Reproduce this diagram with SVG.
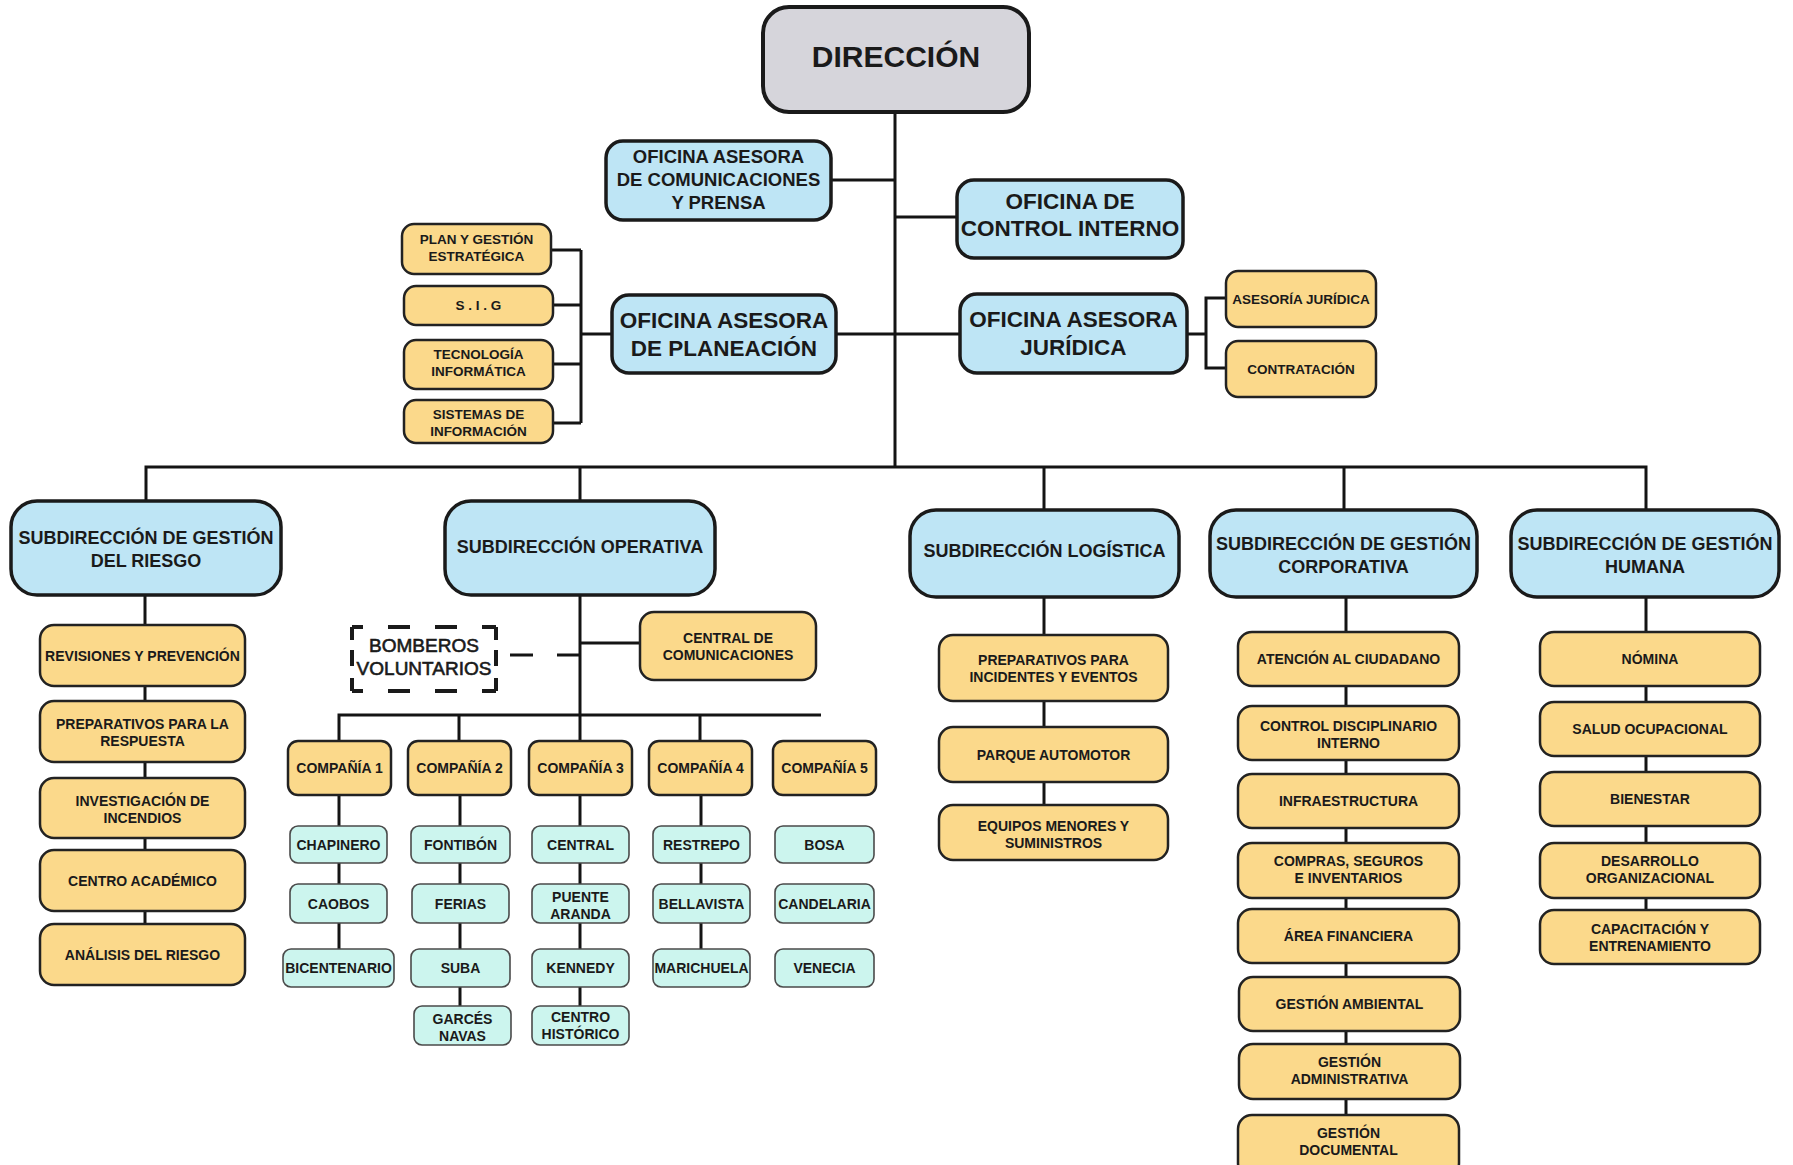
<svg xmlns="http://www.w3.org/2000/svg" width="1793" height="1165" viewBox="0 0 1793 1165">
<style>
.bg{fill:#ffffff}
.grey{fill:#D6D5DB;stroke:#1a1a1a;stroke-width:4}
.blue{fill:#BEE5F5;stroke:#1a1a1a;stroke-width:3.5}
.org{fill:#FBD98B;stroke:#222;stroke-width:2.5}
.cyan{fill:#CCF5EE;stroke:#4a4a4a;stroke-width:1.6}
.dh{fill:none;stroke:#1a1a1a;stroke-width:4;stroke-dasharray:11 25 22 25 22 25 14}
.dv{fill:none;stroke:#1a1a1a;stroke-width:4;stroke-dasharray:13 10 16 12 13}
.ln{fill:none;stroke:#141414;stroke-width:3}
.dl{fill:none;stroke:#141414;stroke-width:3;stroke-dasharray:23 24}
text{font-family:"Liberation Sans",Arial,sans-serif;font-weight:bold;fill:#1a1a1a;text-anchor:middle}
.f30{font-size:30px}
.f22{font-size:22.5px}
.f18{font-size:18.5px}
.f185{font-size:18px}
.f14{font-size:14px}
.f135{font-size:13.5px}
.reg{font-weight:normal;font-size:19px;stroke:#1a1a1a;stroke-width:0.6}
</style>
<rect class="bg" x="0" y="0" width="1793" height="1165"/>

<g id="connectors">
  <path class="ln" d="M895 112 V467"/>
  <path class="ln" d="M831 180 H895"/>
  <path class="ln" d="M895 217 H957"/>
  <path class="ln" d="M836 334 H960"/>
  <path class="ln" d="M581 334 H612"/>
  <path class="ln" d="M581 250 V423"/>
  <path class="ln" d="M551 250 H581 M553 305 H581 M553 364 H581 M553 423 H581"/>
  <path class="ln" d="M1187 334 H1206"/>
  <path class="ln" d="M1226 298 H1206 V368 H1226"/>
  <path class="ln" d="M146 501 V467 H1646 V510"/>
  <path class="ln" d="M580 467 V501 M1044 467 V510 M1344 467 V510"/>
  <path class="ln" d="M145 595 V924"/>
  <path class="ln" d="M580 595 V741"/>
  <path class="ln" d="M580 643 H640"/>
  <path class="dl" d="M510 655 H580"/>
  <path class="ln" d="M339 741 V715 H821"/>
  <path class="ln" d="M459 715 V741 M700 715 V741"/>
  <path class="ln" d="M339 795 V949"/>
  <path class="ln" d="M460 795 V1006"/>
  <path class="ln" d="M580 795 V1006"/>
  <path class="ln" d="M701 795 V949"/>
  <path class="ln" d="M1044 597 V805"/>
  <path class="ln" d="M1346 597 V1115"/>
  <path class="ln" d="M1646 597 V910"/>
</g>

<g id="direccion">
  <rect class="grey" x="763" y="7" width="266" height="105" rx="26"/>
  <text class="f30" x="896" y="67">DIRECCIÓN</text>
</g>

<g id="of-comunicaciones">
  <rect class="blue" x="606" y="141" width="225" height="79" rx="17"/>
  <text class="f18" x="718.5" y="163">OFICINA ASESORA</text>
  <text class="f18" x="718.5" y="186">DE COMUNICACIONES</text>
  <text class="f18" x="718.5" y="209">Y PRENSA</text>
</g>

<g id="of-control">
  <rect class="blue" x="957" y="180" width="226" height="78" rx="17"/>
  <text class="f22" x="1070" y="209">OFICINA DE</text>
  <text class="f22" x="1070" y="235.5">CONTROL INTERNO</text>
</g>

<g id="of-planeacion">
  <rect class="blue" x="612" y="295" width="224" height="78" rx="17"/>
  <text class="f22" x="724" y="328">OFICINA ASESORA</text>
  <text class="f22" x="724" y="355.5">DE PLANEACIÓN</text>
</g>

<g id="of-juridica">
  <rect class="blue" x="960" y="294" width="227" height="79" rx="17"/>
  <text class="f22" x="1073.5" y="327">OFICINA ASESORA</text>
  <text class="f22" x="1073.5" y="354.5">JURÍDICA</text>
</g>

<g id="plan-gestion">
  <rect class="org" x="402" y="224" width="149" height="50" rx="12"/>
  <text class="f135" x="476.5" y="243.5">PLAN Y GESTIÓN</text>
  <text class="f135" x="476.5" y="260.5">ESTRATÉGICA</text>
</g>
<g id="sig">
  <rect class="org" x="404" y="286" width="149" height="39" rx="12"/>
  <text class="f135" x="478.5" y="310">S . I . G</text>
</g>
<g id="tecnologia">
  <rect class="org" x="404" y="340" width="149" height="49" rx="12"/>
  <text class="f135" x="478.5" y="359">TECNOLOGÍA</text>
  <text class="f135" x="478.5" y="376">INFORMÁTICA</text>
</g>
<g id="sistemas">
  <rect class="org" x="404" y="400" width="149" height="43" rx="12"/>
  <text class="f135" x="478.5" y="418.5">SISTEMAS DE</text>
  <text class="f135" x="478.5" y="435.5">INFORMACIÓN</text>
</g>

<g id="asesoria-juridica">
  <rect class="org" x="1226" y="271" width="150" height="56" rx="12"/>
  <text class="f135" x="1301" y="304">ASESORÍA JURÍDICA</text>
</g>
<g id="contratacion">
  <rect class="org" x="1226" y="341" width="150" height="56" rx="12"/>
  <text class="f135" x="1301" y="374">CONTRATACIÓN</text>
</g>

<g id="sub-riesgo">
  <rect class="blue" x="11" y="501" width="270" height="94" rx="26"/>
  <text class="f185" x="146" y="544">SUBDIRECCIÓN DE GESTIÓN</text>
  <text class="f185" x="146" y="566.5">DEL RIESGO</text>
</g>
<g id="sub-operativa">
  <rect class="blue" x="445" y="501" width="270" height="94" rx="26"/>
  <text class="f185" x="580" y="553">SUBDIRECCIÓN OPERATIVA</text>
</g>
<g id="sub-logistica">
  <rect class="blue" x="910" y="510" width="269" height="87" rx="26"/>
  <text class="f185" x="1044.5" y="556.5">SUBDIRECCIÓN LOGÍSTICA</text>
</g>
<g id="sub-corporativa">
  <rect class="blue" x="1210" y="510" width="267" height="87" rx="26"/>
  <text class="f185" x="1343.5" y="549.5">SUBDIRECCIÓN DE GESTIÓN</text>
  <text class="f185" x="1343.5" y="572.5">CORPORATIVA</text>
</g>
<g id="sub-humana">
  <rect class="blue" x="1511" y="510" width="268" height="87" rx="26"/>
  <text class="f185" x="1645" y="549.5">SUBDIRECCIÓN DE GESTIÓN</text>
  <text class="f185" x="1645" y="572.5">HUMANA</text>
</g>

<g id="revisiones">
  <rect class="org" x="40" y="625" width="205" height="61" rx="14"/>
  <text class="f14" x="142.5" y="660.5">REVISIONES Y PREVENCIÓN</text>
</g>
<g id="prep-respuesta">
  <rect class="org" x="40" y="701" width="205" height="61" rx="14"/>
  <text class="f14" x="142.5" y="729">PREPARATIVOS PARA LA</text>
  <text class="f14" x="142.5" y="746">RESPUESTA</text>
</g>
<g id="investigacion">
  <rect class="org" x="40" y="778" width="205" height="60" rx="14"/>
  <text class="f14" x="142.5" y="805.5">INVESTIGACIÓN DE</text>
  <text class="f14" x="142.5" y="822.5">INCENDIOS</text>
</g>
<g id="centro-academico">
  <rect class="org" x="40" y="850" width="205" height="61" rx="14"/>
  <text class="f14" x="142.5" y="885.5">CENTRO ACADÉMICO</text>
</g>
<g id="analisis">
  <rect class="org" x="40" y="924" width="205" height="61" rx="14"/>
  <text class="f14" x="142.5" y="959.5">ANÁLISIS DEL RIESGO</text>
</g>

<g id="bomberos">
  <path class="dh" d="M352 627 H496"/>
  <path class="dh" d="M352 691 H496"/>
  <path class="dv" d="M352 627 V691"/>
  <path class="dv" d="M496 627 V691"/>
  <text class="reg" x="424" y="652">BOMBEROS</text>
  <text class="reg" x="424" y="675">VOLUNTARIOS</text>
</g>
<g id="central-comunicaciones">
  <rect class="org" x="640" y="612" width="176" height="68" rx="14"/>
  <text class="f14" x="728" y="643">CENTRAL DE</text>
  <text class="f14" x="728" y="660">COMUNICACIONES</text>
</g>

<g id="compania1"><rect class="org" x="288" y="741" width="103" height="54" rx="10"/><text class="f14" x="339.5" y="773">COMPAÑÍA 1</text></g>
<g id="compania2"><rect class="org" x="408" y="741" width="103" height="54" rx="10"/><text class="f14" x="459.5" y="773">COMPAÑÍA 2</text></g>
<g id="compania3"><rect class="org" x="529" y="741" width="103" height="54" rx="10"/><text class="f14" x="580.5" y="773">COMPAÑÍA 3</text></g>
<g id="compania4"><rect class="org" x="649" y="741" width="103" height="54" rx="10"/><text class="f14" x="700.5" y="773">COMPAÑÍA 4</text></g>
<g id="compania5"><rect class="org" x="773" y="741" width="103" height="54" rx="10"/><text class="f14" x="824.5" y="773">COMPAÑÍA 5</text></g>

<g id="chapinero"><rect class="cyan" x="290" y="826" width="97" height="37" rx="8"/><text class="f14" x="338.5" y="849.5">CHAPINERO</text></g>
<g id="caobos"><rect class="cyan" x="290" y="884" width="97" height="39" rx="8"/><text class="f14" x="338.5" y="908.5">CAOBOS</text></g>
<g id="bicentenario"><rect class="cyan" x="283" y="949" width="111" height="38" rx="8"/><text class="f14" x="338.5" y="973">BICENTENARIO</text></g>

<g id="fontibon"><rect class="cyan" x="411" y="826" width="99" height="37" rx="8"/><text class="f14" x="460.5" y="849.5">FONTIBÓN</text></g>
<g id="ferias"><rect class="cyan" x="412" y="884" width="97" height="39" rx="8"/><text class="f14" x="460.5" y="908.5">FERIAS</text></g>
<g id="suba"><rect class="cyan" x="411" y="949" width="99" height="38" rx="8"/><text class="f14" x="460.5" y="973">SUBA</text></g>
<g id="garces-navas"><rect class="cyan" x="414" y="1006" width="97" height="39" rx="8"/><text class="f14" x="462.5" y="1024">GARCÉS</text><text class="f14" x="462.5" y="1041">NAVAS</text></g>

<g id="central"><rect class="cyan" x="532" y="826" width="97" height="37" rx="8"/><text class="f14" x="580.5" y="849.5">CENTRAL</text></g>
<g id="puente-aranda"><rect class="cyan" x="532" y="884" width="97" height="39" rx="8"/><text class="f14" x="580.5" y="901.5">PUENTE</text><text class="f14" x="580.5" y="918.5">ARANDA</text></g>
<g id="kennedy"><rect class="cyan" x="532" y="949" width="97" height="38" rx="8"/><text class="f14" x="580.5" y="973">KENNEDY</text></g>
<g id="centro-historico"><rect class="cyan" x="532" y="1006" width="97" height="39" rx="8"/><text class="f14" x="580.5" y="1021.5">CENTRO</text><text class="f14" x="580.5" y="1038.5">HISTÓRICO</text></g>

<g id="restrepo"><rect class="cyan" x="653" y="826" width="97" height="37" rx="8"/><text class="f14" x="701.5" y="849.5">RESTREPO</text></g>
<g id="bellavista"><rect class="cyan" x="653" y="884" width="97" height="39" rx="8"/><text class="f14" x="701.5" y="908.5">BELLAVISTA</text></g>
<g id="marichuela"><rect class="cyan" x="653" y="949" width="97" height="38" rx="8"/><text class="f14" x="701.5" y="973">MARICHUELA</text></g>

<g id="bosa"><rect class="cyan" x="775" y="826" width="99" height="37" rx="8"/><text class="f14" x="824.5" y="849.5">BOSA</text></g>
<g id="candelaria"><rect class="cyan" x="775" y="884" width="99" height="39" rx="8"/><text class="f14" x="824.5" y="908.5">CANDELARIA</text></g>
<g id="venecia"><rect class="cyan" x="775" y="949" width="99" height="38" rx="8"/><text class="f14" x="824.5" y="973">VENECIA</text></g>

<g id="prep-incidentes">
  <rect class="org" x="939" y="635" width="229" height="66" rx="14"/>
  <text class="f14" x="1053.5" y="665">PREPARATIVOS PARA</text>
  <text class="f14" x="1053.5" y="682">INCIDENTES Y EVENTOS</text>
</g>
<g id="parque-automotor">
  <rect class="org" x="939" y="727" width="229" height="55" rx="14"/>
  <text class="f14" x="1053.5" y="759.5">PARQUE AUTOMOTOR</text>
</g>
<g id="equipos-menores">
  <rect class="org" x="939" y="805" width="229" height="55" rx="14"/>
  <text class="f14" x="1053.5" y="830.5">EQUIPOS MENORES Y</text>
  <text class="f14" x="1053.5" y="847.5">SUMINISTROS</text>
</g>

<g id="atencion"><rect class="org" x="1238" y="632" width="221" height="54" rx="14"/><text class="f14" x="1348.5" y="664">ATENCIÓN AL CIUDADANO</text></g>
<g id="control-disciplinario"><rect class="org" x="1238" y="706" width="221" height="54" rx="14"/><text class="f14" x="1348.5" y="731">CONTROL DISCIPLINARIO</text><text class="f14" x="1348.5" y="748">INTERNO</text></g>
<g id="infraestructura"><rect class="org" x="1238" y="774" width="221" height="54" rx="14"/><text class="f14" x="1348.5" y="806">INFRAESTRUCTURA</text></g>
<g id="compras"><rect class="org" x="1238" y="843" width="221" height="55" rx="14"/><text class="f14" x="1348.5" y="866">COMPRAS, SEGUROS</text><text class="f14" x="1348.5" y="883">E INVENTARIOS</text></g>
<g id="area-financiera"><rect class="org" x="1238" y="909" width="221" height="54" rx="14"/><text class="f14" x="1348.5" y="941">ÁREA FINANCIERA</text></g>
<g id="gestion-ambiental"><rect class="org" x="1239" y="977" width="221" height="54" rx="14"/><text class="f14" x="1349.5" y="1009">GESTIÓN AMBIENTAL</text></g>
<g id="gestion-administrativa"><rect class="org" x="1239" y="1044" width="221" height="55" rx="14"/><text class="f14" x="1349.5" y="1067">GESTIÓN</text><text class="f14" x="1349.5" y="1084">ADMINISTRATIVA</text></g>
<g id="gestion-documental"><rect class="org" x="1238" y="1115" width="221" height="62" rx="14"/><text class="f14" x="1348.5" y="1138">GESTIÓN</text><text class="f14" x="1348.5" y="1155">DOCUMENTAL</text></g>

<g id="nomina"><rect class="org" x="1540" y="632" width="220" height="54" rx="14"/><text class="f14" x="1650" y="664">NÓMINA</text></g>
<g id="salud-ocupacional"><rect class="org" x="1540" y="702" width="220" height="54" rx="14"/><text class="f14" x="1650" y="734">SALUD OCUPACIONAL</text></g>
<g id="bienestar"><rect class="org" x="1540" y="772" width="220" height="54" rx="14"/><text class="f14" x="1650" y="804">BIENESTAR</text></g>
<g id="desarrollo"><rect class="org" x="1540" y="843" width="220" height="55" rx="14"/><text class="f14" x="1650" y="866">DESARROLLO</text><text class="f14" x="1650" y="883">ORGANIZACIONAL</text></g>
<g id="capacitacion"><rect class="org" x="1540" y="910" width="220" height="54" rx="14"/><text class="f14" x="1650" y="933.5">CAPACITACIÓN Y</text><text class="f14" x="1650" y="950.5">ENTRENAMIENTO</text></g>
</svg>
